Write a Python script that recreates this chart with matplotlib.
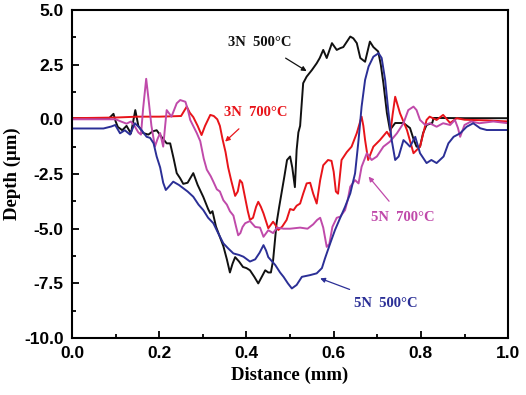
import numpy as np
import matplotlib
matplotlib.use("Agg")
import matplotlib.pyplot as plt
from matplotlib.ticker import MultipleLocator

# traced depth profiles, distance in mm, depth in um
black_x = [0.0, 0.05, 0.085, 0.095, 0.1, 0.105, 0.115, 0.125, 0.135, 0.145, 0.152, 0.163, 0.175, 0.185,
           0.194, 0.205, 0.217, 0.225, 0.233, 0.24, 0.248, 0.255, 0.265, 0.278, 0.288, 0.301, 0.312, 0.317,
           0.322, 0.33, 0.347, 0.355, 0.362, 0.368, 0.374, 0.383, 0.392, 0.4, 0.408, 0.418, 0.427, 0.435,
           0.443, 0.45, 0.456, 0.461, 0.465, 0.469, 0.475, 0.481, 0.487, 0.493, 0.5, 0.505, 0.511, 0.515,
           0.519, 0.523, 0.53, 0.538, 0.55, 0.561, 0.568, 0.576, 0.584, 0.596, 0.607, 0.615, 0.622, 0.638,
           0.645, 0.653, 0.661, 0.672, 0.683, 0.691, 0.702, 0.708, 0.714, 0.722, 0.729, 0.741, 0.76, 0.775,
           0.783, 0.79, 0.798, 0.805, 0.813, 0.826, 0.829, 0.844, 0.9, 1.0]
black_y = [0.05, 0.05, 0.05, 0.25, -0.1, -0.35, -0.5, -0.3, -0.65, 0.42, -0.3, -0.63, -0.7, -0.55,
           -0.5, -0.8, -1.1, -1.1, -1.8, -2.46, -2.7, -2.95, -2.9, -2.46, -3.0, -3.55, -4.1, -4.3,
           -4.2, -4.9, -5.8, -6.4, -7.0, -6.6, -6.3, -6.5, -6.75, -6.8, -6.9, -7.2, -7.5, -7.2,
           -6.9, -7.0, -7.0, -6.45, -5.6, -4.75, -4.0, -3.3, -2.6, -1.86, -1.7, -2.2, -3.1, -1.4,
           -0.6, -0.3, 1.65, 1.95, 2.25, 2.56, 2.8, 3.17, 2.8, 3.48, 3.17, 3.25, 3.3, 3.78,
           3.7, 3.48, 2.8, 2.63, 3.55, 3.3, 3.1, 2.5, 1.65, 0.29, -0.49, -0.17, -0.17, -0.4,
           -0.9, -1.25, -1.25, -0.63, -0.26, -0.17, 0.06, 0.06, 0.05, 0.05]

red_x = [0.0, 0.1, 0.15, 0.2, 0.25, 0.263, 0.27, 0.278, 0.288, 0.297, 0.305, 0.317, 0.325, 0.333,
         0.339, 0.345, 0.352, 0.358, 0.365, 0.374, 0.38, 0.385, 0.39, 0.397, 0.403, 0.408, 0.415, 0.422,
         0.427, 0.433, 0.439, 0.45, 0.461, 0.467, 0.473, 0.482, 0.492, 0.5, 0.508, 0.515, 0.523, 0.53,
         0.538, 0.546, 0.553, 0.561, 0.569, 0.576, 0.587, 0.595, 0.6, 0.605, 0.61, 0.618, 0.63, 0.641,
         0.653, 0.664, 0.668, 0.672, 0.679, 0.691, 0.706, 0.722, 0.729, 0.735, 0.741, 0.752, 0.768, 0.783,
         0.798, 0.806, 0.813, 0.82, 0.836, 0.851, 0.867, 0.882, 0.9, 0.95, 1.0]
red_y = [0.05, 0.08, 0.12, 0.12, 0.15, 0.58, 0.3, 0.1, -0.3, -0.72, -0.3, 0.2, 0.15, 0.0,
         -0.3, -0.9, -1.5, -2.2, -2.8, -3.5, -3.3, -2.78, -2.9, -3.6, -4.2, -4.6, -4.5, -4.0,
         -3.77, -4.0, -4.3, -4.98, -4.68, -4.85, -5.06, -4.9, -4.6, -4.1, -4.15, -3.95, -3.85, -3.4,
         -2.93, -2.9, -3.4, -3.85, -2.78, -2.1, -1.86, -1.9, -2.4, -3.3, -3.4, -1.86, -1.5, -1.25,
         -0.63, 0.12, -0.3, -0.95, -1.86, -1.25, -0.95, -0.57, -0.8, 0.2, 1.03, 0.28, -0.49, -1.55,
         -1.25, -0.6, -0.03, 0.12, -0.03, 0.2, -0.17, 0.05, -0.02, -0.05, -0.1]

mag_x = [0.0, 0.05, 0.1, 0.112, 0.125, 0.135, 0.144, 0.152, 0.158, 0.163, 0.17, 0.176, 0.182, 0.19,
         0.196, 0.202, 0.209, 0.213, 0.217, 0.228, 0.24, 0.248, 0.26, 0.266, 0.271, 0.286, 0.294, 0.302,
         0.309, 0.318, 0.324, 0.332, 0.339, 0.347, 0.355, 0.362, 0.37, 0.376, 0.381, 0.386, 0.391, 0.397,
         0.408, 0.42, 0.431, 0.439, 0.45, 0.461, 0.47, 0.485, 0.5, 0.523, 0.54, 0.553, 0.562, 0.569,
         0.576, 0.584, 0.59, 0.597, 0.607, 0.615, 0.626, 0.632, 0.638, 0.649, 0.657, 0.664, 0.676, 0.687,
         0.699, 0.714, 0.729, 0.745, 0.76, 0.771, 0.783, 0.79, 0.798, 0.81, 0.82, 0.836, 0.851, 0.867,
         0.878, 0.885, 0.89, 0.9, 0.915, 0.934, 0.966, 1.0]
mag_y = [0.0, 0.0, 0.0, -0.1, -0.2, -0.1, -0.33, -0.6, -0.7, 0.5, 1.85, 0.8, -0.3, -1.25,
         -0.9, -0.63, -1.25, -0.4, 0.42, 0.12, 0.73, 0.88, 0.8, 0.4, -0.03, -0.63, -1.0, -1.8,
         -2.3, -2.6, -2.85, -3.2, -3.3, -3.7, -3.9, -4.2, -4.4, -4.9, -5.3, -5.2, -4.92, -4.75,
         -4.65, -4.92, -4.95, -5.37, -5.07, -5.2, -4.95, -5.0, -5.0, -4.95, -5.0, -4.8, -4.6, -4.5,
         -4.95, -5.83, -5.7, -4.92, -4.5, -4.45, -4.15, -3.7, -3.08, -2.78, -2.93, -2.17, -1.55, -1.86,
         -1.7, -1.25, -1.02, -0.64, -0.18, 0.42, 0.58, 0.42, -0.03, -0.26, -0.18, -0.34, -0.18, -0.26,
         -0.03, -0.4, -0.8, -0.26, -0.1, -0.18, -0.1, -0.18]

blue_x = [0.0, 0.05, 0.072, 0.09, 0.099, 0.11, 0.121, 0.133, 0.144, 0.156, 0.171, 0.179, 0.187, 0.194,
          0.202, 0.209, 0.215, 0.221, 0.232, 0.245, 0.255, 0.265, 0.278, 0.29, 0.301, 0.312, 0.324, 0.335,
          0.347, 0.358, 0.37, 0.383, 0.393, 0.408, 0.42, 0.43, 0.439, 0.445, 0.45, 0.466, 0.477, 0.485,
          0.495, 0.504, 0.515, 0.527, 0.546, 0.561, 0.573, 0.58, 0.592, 0.603, 0.615, 0.626, 0.638, 0.649,
          0.657, 0.664, 0.672, 0.68, 0.691, 0.703, 0.71, 0.718, 0.725, 0.733, 0.741, 0.749, 0.76, 0.768,
          0.775, 0.787, 0.798, 0.813, 0.824, 0.836, 0.852, 0.863, 0.875, 0.89, 0.905, 0.92, 0.936, 0.951, 1.0]
blue_y = [-0.42, -0.42, -0.42, -0.33, -0.26, -0.64, -0.5, -0.7, -0.18, -0.41, -0.8, -0.85, -1.1, -1.7,
          -2.2, -2.9, -3.23, -3.1, -2.85, -3.0, -3.15, -3.3, -3.54, -3.9, -4.15, -4.5, -4.75, -5.2,
          -5.67, -5.9, -6.13, -6.2, -6.28, -6.5, -6.4, -6.1, -5.75, -6.0, -6.3, -6.66, -7.0, -7.2,
          -7.5, -7.73, -7.57, -7.2, -7.12, -7.04, -6.8, -6.36, -5.67, -5.06, -4.5, -4.0, -3.39, -2.47,
          -0.95, 0.58, 1.8, 2.41, 2.86, 3.02, 2.8, 1.8, 0.42, -0.95, -1.86, -1.7, -0.95, -1.1,
          -1.25, -0.8, -1.55, -2.0, -1.86, -2.0, -1.7, -1.1, -0.8, -0.64, -0.34, -0.18, -0.41, -0.49, -0.49]

c_black = "#111111"
c_red = "#e8141a"
c_mag = "#c04aaa"
c_blue = "#2b2f96"

fig = plt.figure(figsize=(5.26, 3.95), dpi=100)
ax = fig.add_axes([0.137, 0.144, 0.829, 0.831])

ax.plot(black_x, black_y, color=c_black, lw=1.4)
ax.plot(red_x, red_y, color=c_red, lw=1.4)
ax.plot(mag_x, mag_y, color=c_mag, lw=1.4)
ax.plot(blue_x, blue_y, color=c_blue, lw=1.4)

ax.set_xlim(0, 1.0)
ax.set_ylim(-10, 5)
ax.xaxis.set_minor_locator(MultipleLocator(0.1))
ax.yaxis.set_minor_locator(MultipleLocator(1.25))
ax.tick_params(which="both", direction="in", top=False, right=False, width=1.3)
ax.tick_params(which="major", length=5, pad=6)
ax.tick_params(which="minor", length=3)
for s in ax.spines.values():
    s.set_linewidth(1.5)

tick_font = {"family": "Liberation Sans", "weight": "bold", "size": 12.5}
ax.set_xticks(np.arange(0, 1.01, 0.2))
ax.set_xticklabels(["%.1f" % v for v in np.arange(0, 1.01, 0.2)], fontdict=tick_font)
ax.set_yticks(np.arange(-10, 5.01, 2.5))
ax.set_yticklabels(["%.1f" % v for v in np.arange(-10, 5.01, 2.5)], fontdict=tick_font)

lab_font = {"family": "Liberation Serif", "weight": "bold", "size": 13.5}
ax.set_xlabel("Distance (mm)", fontdict=lab_font, labelpad=4)
ax.set_ylabel("Depth (\u03bcm)", fontdict=lab_font, labelpad=2)

ann_font = dict(family="Liberation Serif", weight="bold", size=10.5)
ax.annotate("3N  500°C", xy=(0.538, 2.2), xytext=(0.431, 3.52), color=c_black, ha="center", va="center",
            arrowprops=dict(arrowstyle="-|>", color=c_black, lw=0.9, shrinkA=9, shrinkB=0, mutation_scale=7),
            **ann_font)
ax.annotate("3N  700°C", xy=(0.351, -1.02), xytext=(0.422, 0.29), color=c_red, ha="center", va="center",
            arrowprops=dict(arrowstyle="-|>", color=c_red, lw=0.9, shrinkA=7, shrinkB=0, mutation_scale=7),
            **ann_font)
ax.annotate("5N  700°C", xy=(0.68, -2.62), xytext=(0.759, -4.51), color=c_mag, ha="center", va="center",
            arrowprops=dict(arrowstyle="-|>", color=c_mag, lw=0.9, shrinkA=7, shrinkB=0, mutation_scale=7),
            **ann_font)
ax.annotate("5N  500°C", xy=(0.569, -7.27), xytext=(0.72, -8.4), color=c_blue, ha="center", va="center",
            arrowprops=dict(arrowstyle="-|>", color=c_blue, lw=0.9, shrinkA=9, shrinkB=0, mutation_scale=7),
            **ann_font)

fig.savefig("out.png", dpi=100)
